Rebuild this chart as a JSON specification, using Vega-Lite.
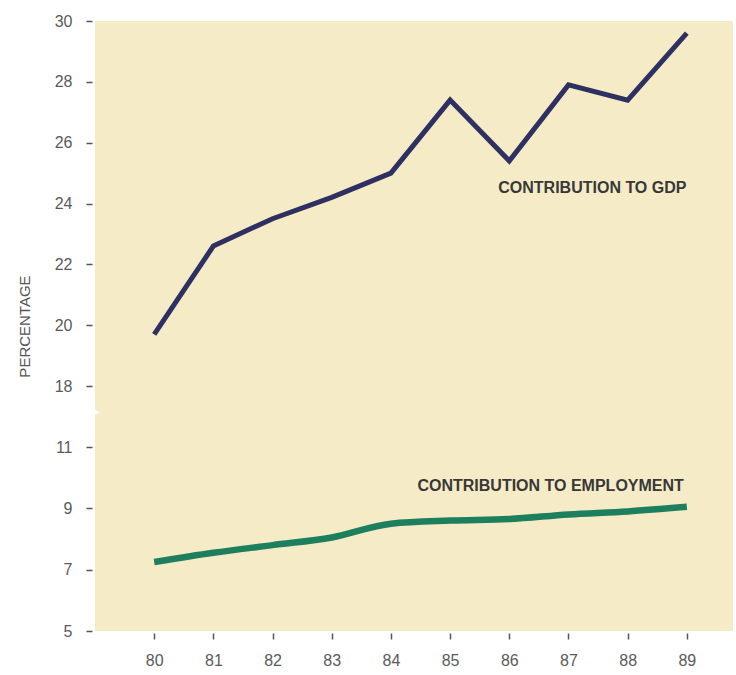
{
  "$schema": "https://vega.github.io/schema/vega-lite/v6.json",
  "width": 638,
  "height": 610,
  "autosize": "none",
  "padding": {"left": 95, "top": 21, "right": 3, "bottom": 44},
  "background": "#ffffff",
  "view": {"fill": "#f5ecc7", "stroke": null},
  "config": {
    "font": "Liberation Sans",
    "axis": {
      "domain": false,
      "grid": false,
      "tickColor": "#555555",
      "tickSize": 6,
      "tickWidth": 1.5,
      "labelFont": "Liberation Sans",
      "labelFontSize": 16,
      "labelColor": "#5a5a5a",
      "titleFont": "Liberation Sans",
      "titleFontSize": 15,
      "titleFontWeight": "normal",
      "titleColor": "#555555"
    }
  },
  "datasets": {
    "gdp": [
      {"year": 80, "value": 19.7},
      {"year": 81, "value": 22.6},
      {"year": 82, "value": 23.5},
      {"year": 83, "value": 24.2},
      {"year": 84, "value": 25.0},
      {"year": 85, "value": 27.4},
      {"year": 86, "value": 25.4},
      {"year": 87, "value": 27.9},
      {"year": 88, "value": 27.4},
      {"year": 89, "value": 29.6}
    ],
    "employment": [
      {"year": 80, "value": 7.25},
      {"year": 81, "value": 7.55},
      {"year": 82, "value": 7.8},
      {"year": 83, "value": 8.05},
      {"year": 84, "value": 8.5},
      {"year": 85, "value": 8.6},
      {"year": 86, "value": 8.65},
      {"year": 87, "value": 8.8},
      {"year": 88, "value": 8.9},
      {"year": 89, "value": 9.05}
    ],
    "axisBreak": [
      {"year": 79, "value": 15}
    ]
  },
  "encoding": {
    "x": {
      "field": "year",
      "type": "quantitative",
      "scale": {"domain": [79, 89.78], "nice": false, "zero": false},
      "axis": {
        "title": null,
        "values": [80, 81, 82, 83, 84, 85, 86, 87, 88, 89],
        "format": "d",
        "offset": 2,
        "labelPadding": 13
      }
    },
    "y": {
      "field": "value",
      "type": "quantitative",
      "scale": {
        "domain": [5, 11, 18, 30],
        "range": [610, 426, 365, 0],
        "nice": false,
        "zero": false
      },
      "axis": {
        "title": "PERCENTAGE",
        "values": [5, 7, 9, 11, 18, 20, 22, 24, 26, 28, 30],
        "format": "d",
        "offset": 3,
        "labelPadding": 14,
        "titlePadding": 22
      }
    }
  },
  "layer": [
    {
      "data": {"name": "axisBreak"},
      "mark": {"type": "point", "shape": "triangle-right", "filled": true, "color": "#ffffff", "opacity": 1, "size": 110, "clip": false}
    },
    {
      "data": {"name": "gdp"},
      "mark": {"type": "line", "color": "#2f3062", "strokeWidth": 5, "strokeJoin": "miter", "strokeCap": "butt"}
    },
    {
      "data": {"name": "employment"},
      "mark": {"type": "line", "color": "#1d7f5e", "strokeWidth": 6.5, "interpolate": "monotone", "strokeCap": "butt"}
    },
    {
      "data": {"name": "gdp"},
      "transform": [{"filter": "datum.year === 86"}],
      "mark": {"type": "text", "align": "left", "baseline": "middle", "dx": -11, "dy": 27, "fontSize": 16, "fontWeight": "bold", "color": "#383838"},
      "encoding": {"text": {"value": "CONTRIBUTION TO GDP"}}
    },
    {
      "data": {"name": "employment"},
      "transform": [{"filter": "datum.year === 89"}],
      "mark": {"type": "text", "align": "right", "baseline": "middle", "dx": -3, "dy": -21, "fontSize": 16, "fontWeight": "bold", "color": "#383838"},
      "encoding": {"text": {"value": "CONTRIBUTION TO EMPLOYMENT"}}
    }
  ]
}
